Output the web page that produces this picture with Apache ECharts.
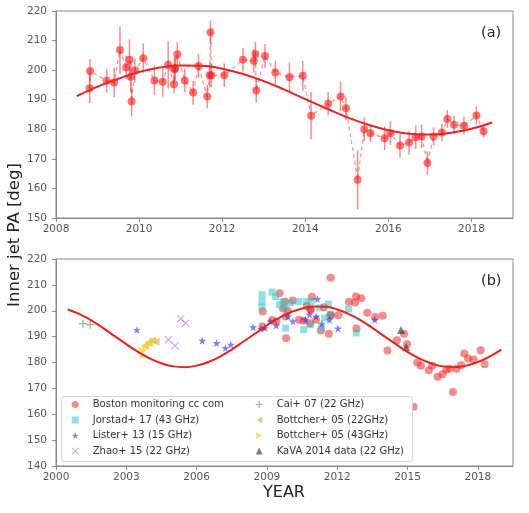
<!DOCTYPE html>
<html>
<head>
<meta charset="utf-8">
<script src="https://cdn.jsdelivr.net/npm/echarts@6/dist/echarts.min.js"></script>
<style>html,body{margin:0;padding:0;background:#fff}#c{width:529px;height:513px}</style>
</head>
<body>
<div id="c"></div>
<script>
// ---------- data ----------
const bostonYears = [2008.81,2008.82,2009.22,2009.40,2009.54,2009.69,2009.77,2009.80,2009.82,2009.90,2010.10,2010.37,2010.57,2010.70,2010.84,2010.85,2010.87,2010.92,2011.10,2011.30,2011.43,2011.64,2011.70,2011.72,2011.74,2012.05,2012.50,2012.76,2012.80,2012.82,2013.03,2013.28,2013.62,2013.94,2014.14,2014.55,2014.85,2014.98,2015.26,2015.42,2015.57,2015.91,2016.05,2016.28,2016.50,2016.66,2016.80,2016.94,2017.09,2017.29,2017.42,2017.58,2017.82,2018.12,2018.29];
const bostonPA = [193.9,199.7,196.4,195.8,206.8,200.9,203.5,197.8,189.4,199.9,204.0,196.5,196.1,201.8,195.2,200.3,200.6,205.4,196.5,192.4,201.4,191.1,198.3,212.8,198.3,198.3,203.5,203.2,205.5,193.1,204.8,199.2,197.6,198.1,184.6,188.6,191.1,187.1,162.9,180.0,178.7,177.0,178.7,174.5,175.5,177.3,177.6,168.6,177.6,178.9,183.5,181.5,181.2,184.7,179.3];
const bostonErr = [5,4,4,5,8,4,7,5,5,4,5,5,5,8,3,4,4,4,4,4,4,4,4,4,4,4,4,4,4,4,4,4,5,5,8,4,5,4,10,4,3,4,4,4,4,4,4,4,3,3,3,3,3,3,2];

const fitYears = [2000.5,2001.0,2001.5,2002.0,2002.5,2003.0,2003.5,2004.0,2004.5,2005.0,2005.5,2006.0,2006.5,2007.0,2007.5,2008.0,2008.5,2009.0,2009.5,2010.0,2010.5,2011.0,2011.5,2012.0,2012.5,2013.0,2013.5,2014.0,2014.5,2015.0,2015.5,2016.0,2016.5,2017.0,2017.5,2018.0,2018.5,2019.0];
const fitPA = [200.5,198.7,196.3,193.4,190.2,187.1,184.1,181.6,179.7,178.5,178.2,178.8,180.2,182.3,185.0,188.1,191.2,194.4,197.1,199.4,200.9,201.6,201.5,200.5,198.7,196.3,193.4,190.2,187.1,184.1,181.6,179.7,178.5,178.2,178.8,180.2,182.3,185.0];

const jorstadYears = [2008.79,2008.79,2008.79,2009.22,2009.37,2009.54,2009.69,2009.76,2009.80,2010.01,2010.35,2010.68,2010.57,2010.86,2010.89,2011.25,2011.32,2011.46,2011.63,2011.71,2012.48,2012.81];
const jorstadPA = [206.2,203.6,201.4,207.2,205.5,202.3,203.6,201.1,193.3,203.0,203.6,203.6,192.7,194.6,203.6,201.1,193.3,197.2,202.6,198.5,200.7,191.4];
const listerYears = [2003.45,2006.24,2006.85,2007.23,2007.46,2008.41,2008.75,2008.91,2009.15,2009.40,2009.90,2010.11,2010.64,2010.82,2011.10,2011.15,2011.34,2011.67,2012.03,2013.60];
const listerPA = [192.6,188.4,187.5,185.6,186.9,193.6,193.0,193.3,195.9,194.3,197.8,195.9,196.5,198.5,197.8,204.5,195.0,196.5,193.1,196.5];
const zhaoYears = [2004.80,2005.08,2005.32,2005.53];
const zhaoPA = [188.8,186.5,196.9,195.2];
const caiYears = [2001.15,2001.46];
const caiPA = [195.0,194.6];
const bott22Years = [2003.80,2003.95,2004.10,2004.25];
const bott22PA = [186.5,187.5,188.5,188.0];
const bott43Years = [2003.70,2003.75,2003.85,2004.00,2004.15];
const bott43PA = [184.5,182.8,185.5,187.0,188.5];
const kavaYears = [2014.72,2014.94];
const kavaPA = [192.6,185.9];

const topYTicks = [150,160,170,180,190,200,210,220];
const botYTicks = [140,150,160,170,180,190,200,210,220];

// ---------- helpers ----------
const pairs = (xs, ys) => xs.map((x, i) => [x, ys[i]]);
const FONT = 'DejaVu Sans';
const STAR = 'path://M0,-10 L2.35,-3.24 9.51,-3.09 3.8,1.24 5.88,8.09 0,4 -5.88,8.09 -3.8,1.24 -9.51,-3.09 -2.35,-3.24Z';
const XMARK = 'path://M-5,-4 L-4,-5 0,-1 4,-5 5,-4 1,0 5,4 4,5 0,1 -4,5 -5,4 -1,0Z';
const PLUS = 'path://M-0.8,-5 H0.8 V-0.8 H5 V0.8 H0.8 V5 H-0.8 V0.8 H-5 V-0.8 H-0.8Z';
const LTRI = 'path://M0,5 L8.66,0 L8.66,10Z';
const RTRI = 'path://M8.66,5 L0,0 L0,10Z';

const intLabel = v => String(Math.round(v));

const axisCommon = {
  axisLine: {show: true, onZero: false, lineStyle: {color: '#888', width: 1}},
  axisTick: {show: true, length: 4, lineStyle: {color: '#888'}},
  splitLine: {show: false},
  axisLabel: {fontFamily: FONT, fontSize: 10.5, color: '#555'}
};

const grids = [
  {left: 56, top: 11, width: 457, height: 207, show: true, borderColor: '#888', borderWidth: 1, backgroundColor: 'transparent'},
  {left: 56, top: 259, width: 457, height: 207, show: true, borderColor: '#888', borderWidth: 1, backgroundColor: 'transparent'}
];

const xAxes = [
  Object.assign({}, axisCommon, {gridIndex: 0, type: 'value', min: 2008, max: 2019, interval: 2,
    axisLabel: Object.assign({}, axisCommon.axisLabel, {margin: 6, showMaxLabel: false, formatter: intLabel})}),
  Object.assign({}, axisCommon, {gridIndex: 1, type: 'value', min: 2000, max: 2019.5, interval: 3,
    axisLabel: Object.assign({}, axisCommon.axisLabel, {margin: 6, showMaxLabel: false, formatter: intLabel})})
];
const yAxes = [
  Object.assign({}, axisCommon, {gridIndex: 0, type: 'value', min: topYTicks[0], max: topYTicks[topYTicks.length-1], interval: 10,
    axisLabel: Object.assign({}, axisCommon.axisLabel, {margin: 9})}),
  Object.assign({}, axisCommon, {gridIndex: 1, type: 'value', min: botYTicks[0], max: botYTicks[botYTicks.length-1], interval: 10,
    axisLabel: Object.assign({}, axisCommon.axisLabel, {margin: 9})})
];

const topFit = pairs(fitYears, fitPA).filter(p => p[0] >= 2008.5 && p[0] <= 2018.5);
const errData = bostonYears.map((y, i) => [y, bostonPA[i] - bostonErr[i], bostonPA[i] + bostonErr[i]]);

const series = [
  // ---- panel (a)
  {type: 'line', xAxisIndex: 0, yAxisIndex: 0, data: pairs(bostonYears, bostonPA), symbol: 'none',
    lineStyle: {color: 'rgba(255,60,60,0.55)', width: 1.3, type: [4, 3]}, z: 1, silent: true},
  {type: 'custom', xAxisIndex: 0, yAxisIndex: 0, data: errData, z: 2, silent: true,
    encode: {x: 0, y: [1, 2]},
    renderItem: (params, api) => {
      const x = api.value(0);
      const p1 = api.coord([x, api.value(1)]);
      const p2 = api.coord([x, api.value(2)]);
      return {type: 'line', shape: {x1: p1[0], y1: p1[1], x2: p2[0], y2: p2[1]},
        style: {stroke: 'rgba(255,40,40,0.55)', lineWidth: 1.5}};
    }},
  {type: 'scatter', xAxisIndex: 0, yAxisIndex: 0, data: pairs(bostonYears, bostonPA), symbol: 'circle', symbolSize: 8,
    itemStyle: {color: 'rgba(255,20,20,0.75)'}, z: 3, silent: true},
  {type: 'line', xAxisIndex: 0, yAxisIndex: 0, data: topFit, symbol: 'none', smooth: true,
    lineStyle: {color: '#e8241f', width: 2}, z: 4, silent: true},
  // ---- panel (b)
  {name: 'Boston monitoring cc com', type: 'scatter', xAxisIndex: 1, yAxisIndex: 1, data: pairs(bostonYears, bostonPA),
    symbol: 'circle', symbolSize: 8, itemStyle: {color: 'rgba(240,30,30,0.65)'}, z: 3},
  {name: 'Jorstad+ 17 (43 GHz)', type: 'scatter', xAxisIndex: 1, yAxisIndex: 1, data: pairs(jorstadYears, jorstadPA),
    symbol: 'rect', symbolSize: 7, itemStyle: {color: 'rgba(40,195,195,0.65)'}, z: 3},
  {name: 'Lister+ 13 (15 GHz)', type: 'scatter', xAxisIndex: 1, yAxisIndex: 1, data: pairs(listerYears, listerPA),
    symbol: STAR, symbolSize: 8, itemStyle: {color: 'rgba(30,30,240,0.7)'}, z: 4},
  {name: 'Zhao+ 15 (22 GHz)', type: 'scatter', xAxisIndex: 1, yAxisIndex: 1, data: pairs(zhaoYears, zhaoPA),
    symbol: XMARK, symbolSize: 8, itemStyle: {color: 'rgba(190,80,210,0.7)'}, z: 3},
  {name: 'Cai+ 07 (22 GHz)', type: 'scatter', xAxisIndex: 1, yAxisIndex: 1, data: pairs(caiYears, caiPA),
    symbol: PLUS, symbolSize: 8, itemStyle: {color: 'rgba(60,150,60,0.75)'}, z: 3},
  {name: 'Bottcher+ 05 (22GHz)', type: 'scatter', xAxisIndex: 1, yAxisIndex: 1, data: pairs(bott22Years, bott22PA),
    symbol: LTRI, symbolSize: 8, itemStyle: {color: 'rgba(225,170,60,0.8)'}, z: 3},
  {name: 'Bottcher+ 05 (43GHz)', type: 'scatter', xAxisIndex: 1, yAxisIndex: 1, data: pairs(bott43Years, bott43PA),
    symbol: RTRI, symbolSize: 8, itemStyle: {color: 'rgba(245,215,40,0.8)'}, z: 3},
  {name: 'KaVA 2014 data (22 GHz)', type: 'scatter', xAxisIndex: 1, yAxisIndex: 1, data: pairs(kavaYears, kavaPA),
    symbol: 'triangle', symbolSize: 8, itemStyle: {color: 'rgba(40,40,40,0.75)'}, z: 3},
  {type: 'line', xAxisIndex: 1, yAxisIndex: 1, data: pairs(fitYears, fitPA), symbol: 'none', smooth: true,
    lineStyle: {color: '#e8241f', width: 2}, z: 5, silent: true}
];

const legendCommon = {
  orient: 'vertical', top: 398.5, padding: 0, itemWidth: 7, itemHeight: 7, itemGap: 3.5,
  textStyle: {fontFamily: FONT, fontSize: 10, color: '#333', lineHeight: 12, padding: [0, 0, 0, 9]},
  selectedMode: false, z: 6
};

const option = {
  animation: false,
  backgroundColor: '#fff',
  grid: grids,
  xAxis: xAxes,
  yAxis: yAxes,
  series: series,
  legend: [
    Object.assign({}, legendCommon, {left: 71.7, data: ['Boston monitoring cc com','Jorstad+ 17 (43 GHz)','Lister+ 13 (15 GHz)','Zhao+ 15 (22 GHz)']}),
    Object.assign({}, legendCommon, {left: 255.7, data: ['Cai+ 07 (22 GHz)','Bottcher+ 05 (22GHz)','Bottcher+ 05 (43GHz)','KaVA 2014 data (22 GHz)']})
  ],
  graphic: [
    {type: 'rect', left: 61, top: 396, z: 5, shape: {width: 351, height: 65, r: 3},
      style: {fill: 'rgba(255,255,255,0.8)', stroke: '#d6d6d6', lineWidth: 1}},
    {type: 'text', left: 481, top: 26, z: 6, style: {text: '(a)', font: '14.5px "DejaVu Sans"', fill: '#222'}},
    {type: 'text', left: 481, top: 274, z: 6, style: {text: '(b)', font: '14.5px "DejaVu Sans"', fill: '#222'}},
    {type: 'text', left: 263, top: 485, z: 6, style: {text: 'YEAR', font: '16px "DejaVu Sans"', fill: '#222'}},
    {type: 'text', x: 15, y: 235, rotation: Math.PI / 2, z: 6,
      style: {text: 'Inner jet PA [deg]', font: '16.5px "DejaVu Sans"', fill: '#222', align: 'center', verticalAlign: 'middle'}}
  ]
};

const chart = echarts.init(document.getElementById('c'), null, {renderer: 'canvas'});
chart.setOption(option);
</script>
</body>
</html>
